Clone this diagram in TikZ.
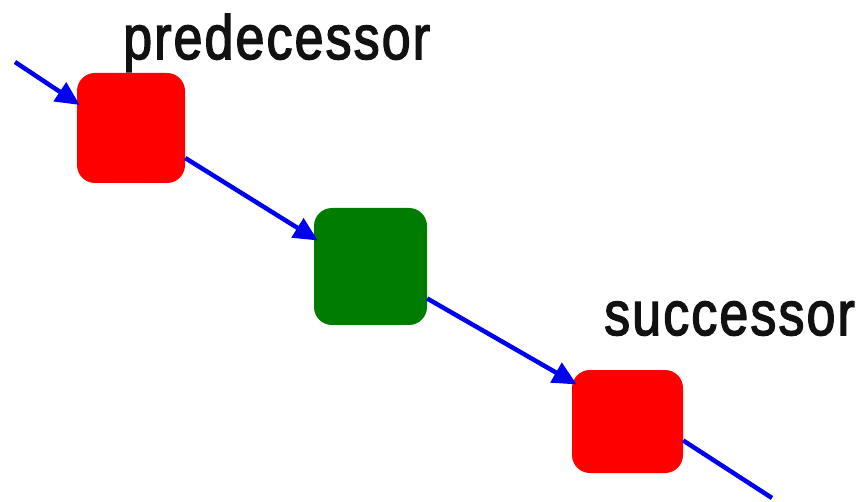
\documentclass[tikz,border=0pt]{standalone}
\usepackage{fontspec}
\setmainfont{Liberation Sans}
\newfontfamily\labelfont[FakeBold=2.5,LetterSpace=4]{Liberation Sans}
\usetikzlibrary{arrows.meta}
\begin{document}
\begin{tikzpicture}[x=1pt,y=-1pt,
  block/.style={rounded corners=18pt, inner sep=0pt, draw=none},
  link/.style={draw={rgb,255:red,0;green,0;blue,240}, line width=4.5pt,
    -{Triangle[length=24pt,width=22pt]}},
  plain link/.style={draw={rgb,255:red,0;green,0;blue,240}, line width=4.5pt},
  caption/.style={anchor=base west, inner sep=0pt, text={rgb,255:red,17;green,17;blue,17},
    font=\labelfont\fontsize{52}{58}\selectfont}]
  \useasboundingbox (0,0) rectangle (867,502);
  \definecolor{boxred}{RGB}{255,0,0}
  \definecolor{boxgreen}{RGB}{0,125,0}

  % the three elements of the chain
  \node[block, fill=boxred, minimum width=108pt, minimum height=110pt] (pred) at (131,128) {};
  \node[block, fill=boxgreen, minimum width=113pt, minimum height=117pt] (cur) at (370.5,266.5) {};
  \node[block, fill=boxred, minimum width=111pt, minimum height=103pt] (succ) at (627.5,421.5) {};

  % loose ends of the chain
  \coordinate (start) at (15,62);
  \coordinate (finish) at (772,498);

  % links
  \draw[link] (start) -- ([yshift=23pt,xshift=3pt]pred.west);
  \draw[link] ([yshift=-30pt]pred.east) -- ([yshift=26pt,xshift=4pt]cur.west);
  \draw[link] ([yshift=-32pt]cur.east) -- ([yshift=37pt,xshift=5pt]succ.west);
  \draw[plain link] ([yshift=-19pt]succ.east) -- (finish);

  % labels
  \node[caption] (lpred) at (123,59) {\scalebox{1}[1.2]{predecessor}};
  \node[caption] (lsucc) at (604,335) {\scalebox{1}[1.2]{successor}};
\end{tikzpicture}
\end{document}
